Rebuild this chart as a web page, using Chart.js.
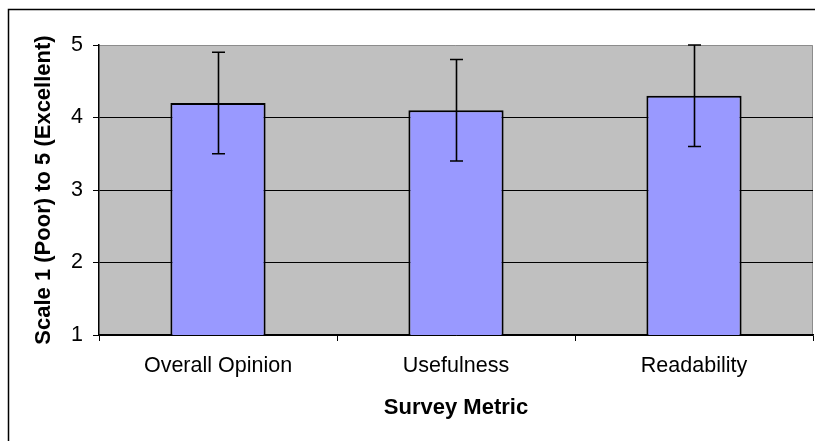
<!DOCTYPE html>
<html>
<head>
<meta charset="utf-8">
<script src="https://cdn.jsdelivr.net/npm/chart.js@4.4.1/dist/chart.umd.min.js"></script>
<style>
  html, body { margin: 0; padding: 0; background: #fff; }
  #wrap { width: 815px; height: 441px; position: relative; }
</style>
</head>
<body>
<div id="wrap"><canvas id="c" width="815" height="441"></canvas></div>
<script>
const categories = ["Overall Opinion", "Usefulness", "Readability"];
const means = [4.2, 4.1, 4.3];
const errors = [0.7, 0.7, 0.7];
const yTicks = [1, 2, 3, 4, 5];

const FONT = "'Liberation Sans', Arial, sans-serif";

const bgPlugin = {
  id: 'bg',
  beforeDraw(chart) {
    const {ctx, chartArea: a} = chart;
    ctx.save();
    ctx.fillStyle = '#fff';
    ctx.fillRect(0, 0, chart.width, chart.height);
    ctx.strokeStyle = '#000';
    ctx.lineWidth = 1.5;
    ctx.strokeRect(8.5, 9.5, chart.width + 20, chart.height + 20);
    ctx.fillStyle = '#C0C0C0';
    ctx.fillRect(a.left, a.top, a.right - a.left, a.bottom - a.top);
    ctx.strokeStyle = '#8c8c8c';
    ctx.lineWidth = 1;
    ctx.beginPath();
    ctx.moveTo(a.left, a.top + 0.5);
    ctx.lineTo(a.right - 0.5, a.top + 0.5);
    ctx.lineTo(a.right - 0.5, a.bottom);
    ctx.stroke();
    ctx.restore();
  }
};

const errPlugin = {
  id: 'err',
  afterDatasetsDraw(chart) {
    const {ctx} = chart;
    const y = chart.scales.y;
    const meta = chart.getDatasetMeta(0);
    ctx.save();
    ctx.strokeStyle = '#000';
    ctx.lineWidth = 1.6;
    meta.data.forEach((bar, i) => {
      const x = Math.round(bar.x) + 0.5;
      const yHi = y.getPixelForValue(means[i] + errors[i]);
      const yLo = y.getPixelForValue(means[i] - errors[i]);
      const cap = 6.5;
      ctx.beginPath();
      ctx.moveTo(x, yHi); ctx.lineTo(x, yLo);
      ctx.moveTo(x - cap, yHi); ctx.lineTo(x + cap, yHi);
      ctx.moveTo(x - cap, yLo); ctx.lineTo(x + cap, yLo);
      ctx.stroke();
    });
    ctx.restore();
  }
};

new Chart(document.getElementById('c'), {
  type: 'bar',
  data: {
    labels: categories,
    datasets: [{
      data: means,
      backgroundColor: '#9999FF',
      borderColor: '#000',
      borderWidth: 2,
      categoryPercentage: 1.0,
      barPercentage: 0.4
    }]
  },
  options: {
    responsive: false,
    animation: false,
    devicePixelRatio: 1,
    layout: { padding: { left: 0, top: 45, right: 2, bottom: 0 } },
    plugins: { legend: { display: false }, tooltip: { enabled: false } },
    scales: {
      x: {
        afterFit(s) { s.height = 106; },
        grid: {
          offset: true,
          drawOnChartArea: false,
          drawTicks: true,
          tickLength: 6,
          color: '#000',
          lineWidth: 1
        },
        border: { display: true, color: '#000', width: 1.5 },
        ticks: { color: '#000', font: { family: FONT, size: 21.5 }, padding: 12, maxRotation: 0 },
        title: {
          display: true, text: 'Survey Metric', color: '#000',
          font: { family: FONT, size: 22, weight: 'bold' },
          padding: { top: 0, bottom: 20 }
        }
      },
      y: {
        min: 1, max: 5,
        afterFit(s) { s.width = 99; },
        afterBuildTicks(s) { s.ticks = yTicks.map(v => ({ value: v })); },
        grid: {
          drawTicks: true,
          tickLength: 6,
          color: (c) => (c.tick && c.tick.value === 5) ? 'rgba(0,0,0,0)' : '#000',
          tickColor: '#000',
          lineWidth: 1
        },
        border: { display: true, color: '#000', width: 1.5 },
        ticks: { color: '#000', font: { family: FONT, size: 21.5 }, padding: 10 },
        title: {
          display: true, text: 'Scale 1 (Poor) to 5 (Excellent)', color: '#000',
          font: { family: FONT, size: 22, weight: 'bold' },
          padding: { top: 31, bottom: 0 }
        }
      }
    }
  },
  plugins: [bgPlugin, errPlugin]
});
</script>
</body>
</html>
